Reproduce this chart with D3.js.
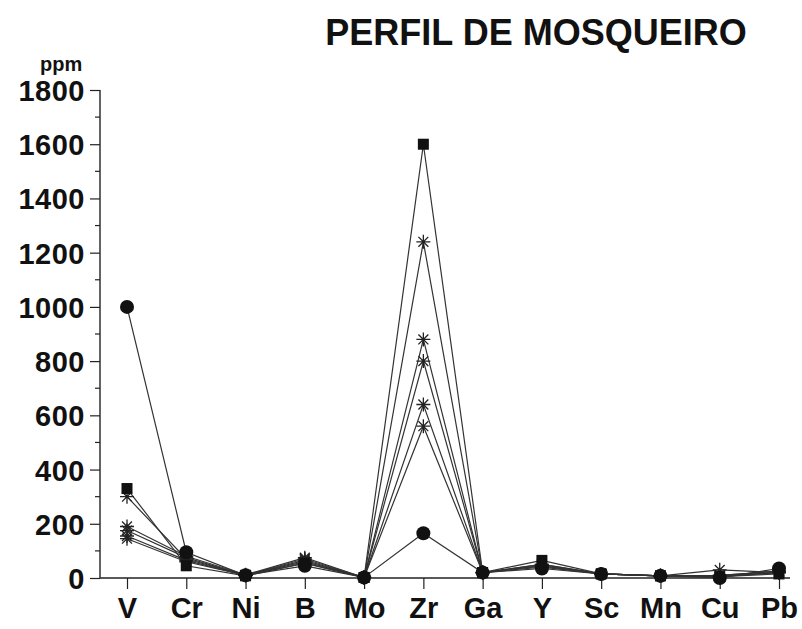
<!DOCTYPE html>
<html><head><meta charset="utf-8">
<script src="https://cdn.jsdelivr.net/npm/d3@7"></script>
<style>body{margin:0;background:#fff}svg{display:block}</style>
</head><body>
<script>
const categories = ["V","Cr","Ni","B","Mo","Zr","Ga","Y","Sc","Mn","Cu","Pb"];
const yTicks = [0,200,400,600,800,1000,1200,1400,1600,1800];
const circleSeries = [1000,95,10,45,2,165,20,35,15,8,0,35];
const squareSeries = [330,45,8,55,2,1600,20,65,15,8,5,15];
const starA = [300,70,10,65,2,1240,20,50,15,8,10,25];
const starB = [190,80,12,75,2,880,20,45,15,8,30,20];
const starC = [175,75,10,70,2,800,20,50,15,8,10,25];
const starD = [155,65,10,60,2,640,20,45,15,8,8,20];
const starE = [145,60,10,55,2,560,20,40,15,8,5,20];
const series = [
  {name:"A", values:starA, shape:"star"},
  {name:"B", values:starB, shape:"star"},
  {name:"C", values:starC, shape:"star"},
  {name:"D", values:starD, shape:"star"},
  {name:"E", values:starE, shape:"star"},
  {name:"sq", values:squareSeries, shape:"square"},
  {name:"ci", values:circleSeries, shape:"circle"}
];
const W=802,H=629;
const svg=d3.select("body").append("svg").attr("width",W).attr("height",H);
const x=d3.scalePoint().domain(categories).range([127,779]);
const y=d3.scaleLinear().domain([0,1800]).range([578,90]);
const font="'Liberation Sans', Arial, sans-serif";

svg.append("text").attr("x",536).attr("y",45).attr("text-anchor","middle")
  .style("font-family",font).style("font-weight","bold").style("font-size","36px").attr("fill","#111").text("PERFIL DE MOSQUEIRO");
svg.append("text").attr("x",40).attr("y",71).attr("text-anchor","start")
  .style("font-family",font).style("font-weight","bold").style("font-size","20px").attr("fill","#111").text("ppm");

// y axis
const yAxis=d3.axisLeft(y).tickValues(yTicks).tickFormat(d3.format("d")).tickSize(10).tickPadding(5);
const gy=svg.append("g").attr("transform","translate(100,0)").call(yAxis);
gy.select(".domain").attr("d","M0,90V578").attr("stroke","#222").attr("stroke-width",1.4);
gy.selectAll(".tick line").attr("stroke","#222").attr("stroke-width",1.2);
gy.selectAll(".tick text").style("font-family",font).style("font-weight","bold").style("font-size","29px").style("letter-spacing","0.5px").attr("fill","#111").attr("dy","0.36em");
const minor=d3.range(100,1800,200);
svg.append("g").selectAll("line").data(minor).join("line")
  .attr("x1",95).attr("x2",100).attr("y1",d=>y(d)).attr("y2",d=>y(d)).attr("stroke","#222").attr("stroke-width",1.2);

// x axis
const xAxis=d3.axisBottom(x).tickSize(11).tickPadding(8);
const gx=svg.append("g").attr("transform","translate(0,578)").call(xAxis);
gx.select(".domain").attr("d","M100,0H790").attr("stroke","#222").attr("stroke-width",1.4);
gx.selectAll(".tick line").attr("stroke","#222").attr("stroke-width",1.2);
gx.selectAll(".tick text").style("font-family",font).style("font-weight","bold").style("font-size","29px").attr("fill","#111");

// lines
const line=d3.line().x((d,i)=>x(categories[i])).y(d=>y(d));
svg.append("g").selectAll("path").data(series).join("path")
  .attr("d",d=>line(d.values)).attr("fill","none").attr("stroke","#333").attr("stroke-width",1.2);

// markers
const starPath=(r)=>{let p="";for(let k=0;k<4;k++){const a=k*Math.PI/4;p+=`M${-r*Math.cos(a)},${-r*Math.sin(a)}L${r*Math.cos(a)},${r*Math.sin(a)}`;}return p;};
series.forEach(s=>{
  const g=svg.append("g");
  const pts=s.values.map((v,i)=>({x:x(categories[i]),y:y(v)}));
  if(s.shape==="circle"){
    g.selectAll("circle").data(pts).join("circle").attr("cx",d=>d.x).attr("cy",d=>d.y).attr("r",7).attr("fill","#111");
  } else if(s.shape==="square"){
    g.selectAll("rect").data(pts).join("rect").attr("x",d=>d.x-5.5).attr("y",d=>d.y-5.5).attr("width",11).attr("height",11).attr("fill","#111");
  } else {
    g.selectAll("path").data(pts).join("path").attr("transform",d=>`translate(${d.x},${d.y})`).attr("d",starPath(7)).attr("stroke","#222").attr("stroke-width",1.3).attr("fill","none");
  }
});
</script>
</body></html>
